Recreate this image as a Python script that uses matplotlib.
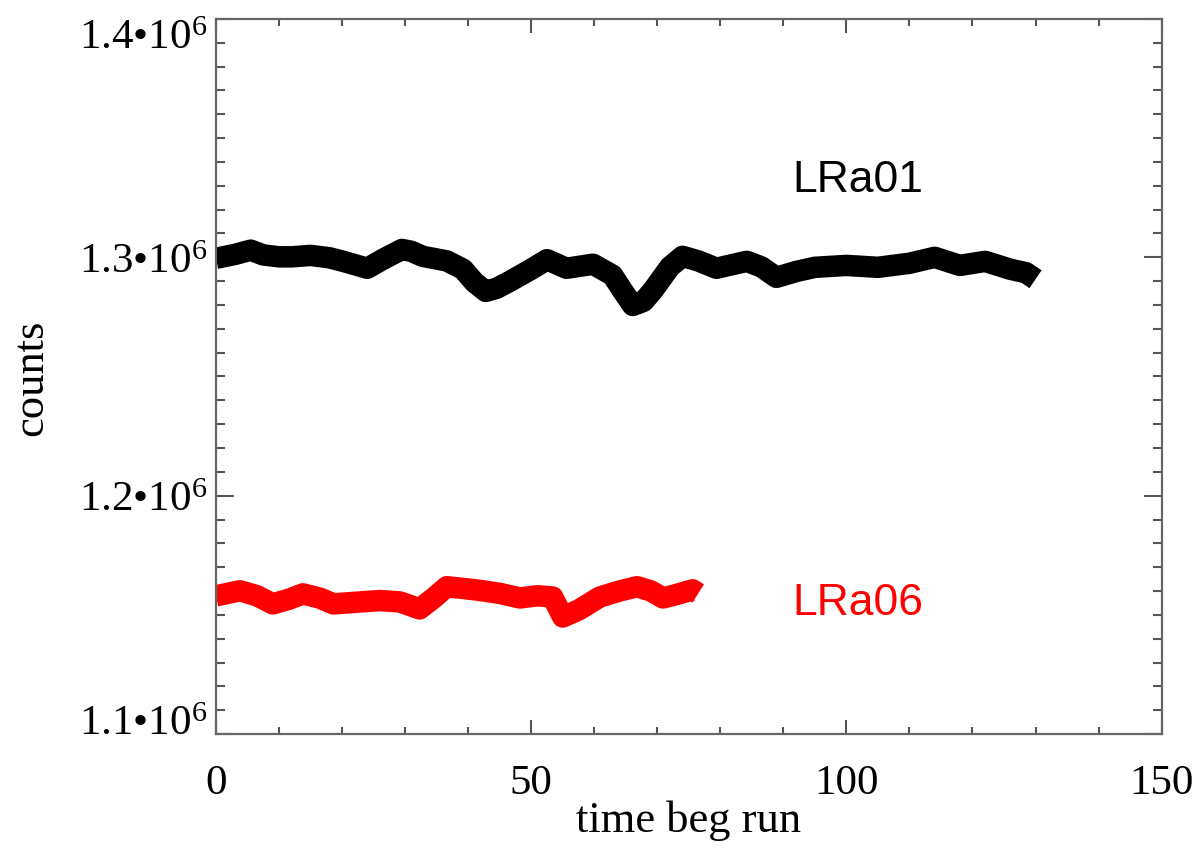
import numpy as np
import matplotlib
matplotlib.use("Agg")
import matplotlib.pyplot as plt
from matplotlib.ticker import FixedLocator, MultipleLocator

plt.rcParams['font.family'] = ['Liberation Serif', 'DejaVu Serif']
plt.rcParams['mathtext.fontset'] = 'custom'
plt.rcParams['mathtext.rm'] = 'Liberation Serif'
plt.rcParams['mathtext.it'] = 'Liberation Serif:italic'
plt.rcParams['mathtext.bf'] = 'Liberation Serif:bold'

# LRa01 (black) centre line
lra01_t = [0, 3, 5.5, 7.5, 10, 12, 15, 18, 20.2, 24, 26.5, 29.5, 31, 32.8, 36.6,
           39.2, 41, 42.8, 44.5, 46.6, 50, 52.5, 55.6, 59.8, 62.9, 64.5, 66.1,
           67.8, 69.3, 72, 74, 76.5, 79.4, 82, 84.2, 86.5, 88.9, 92.1, 95, 100,
           105, 110, 114, 118, 122, 126, 128.5, 130]
lra01_c = [1.2996e6, 1.3012e6, 1.3030e6, 1.3010e6, 1.3002e6, 1.3002e6, 1.3008e6,
           1.2998e6, 1.2983e6, 1.2954e6, 1.2992e6, 1.3033e6, 1.3025e6, 1.3004e6,
           1.2985e6, 1.2950e6, 1.2895e6, 1.2857e6, 1.2870e6, 1.2899e6, 1.2950e6,
           1.2990e6, 1.2954e6, 1.2971e6, 1.2925e6, 1.2860e6, 1.2798e6, 1.2815e6,
           1.2861e6, 1.2960e6, 1.3004e6, 1.2985e6, 1.2954e6, 1.2970e6, 1.2983e6,
           1.2960e6, 1.2916e6, 1.2941e6, 1.2958e6, 1.2966e6, 1.2958e6, 1.2975e6,
           1.3000e6, 1.2966e6, 1.2983e6, 1.2950e6, 1.2935e6, 1.2908e6]

# LRa06 (red) centre line
lra06_t = [0, 3.8, 6.5, 9, 11.5, 13.8, 16.5, 18.6, 22.8, 26, 29.2, 32.3, 34.5,
           36.6, 39.5, 42.3, 45, 48.2, 51, 53.4, 55, 57.5, 60.9, 64, 66.8, 69,
           70.9, 73, 75.6, 76.5]
lra06_c = [1.1580e6, 1.1601e6, 1.1580e6, 1.1546e6, 1.1565e6, 1.1588e6, 1.1570e6,
           1.1546e6, 1.1554e6, 1.1560e6, 1.1554e6, 1.1525e6, 1.1570e6, 1.1618e6,
           1.1610e6, 1.1601e6, 1.1590e6, 1.1571e6, 1.1580e6, 1.1575e6, 1.1491e6,
           1.1520e6, 1.1575e6, 1.1600e6, 1.1618e6, 1.1600e6, 1.1571e6, 1.1585e6,
           1.1605e6, 1.1590e6]

y_ticks = [1.1e6, 1.2e6, 1.3e6, 1.4e6]
y_labels = ["1.1•10$^{6}$", "1.2•10$^{6}$", "1.3•10$^{6}$", "1.4•10$^{6}$"]
x_ticks = [0, 50, 100, 150]
x_labels = ["0", "50", "100", "150"]

fig = plt.figure(figsize=(12, 8.53), dpi=100)
ax = fig.add_axes([0.18, 0.1383, 0.788, 0.8383])

ax.plot(lra01_t, lra01_c, color='black', lw=15.5, solid_capstyle='butt', solid_joinstyle='round')
ax.plot(lra06_t, lra06_c, color='red', lw=15.5, solid_capstyle='butt', solid_joinstyle='round')

ax.text(91.5, 1.3328e6, "LRa01", family='Liberation Sans', fontsize=32,
        color='black', va='center', ha='left')
ax.text(91.5, 1.155e6, "LRa06", family='Liberation Sans', fontsize=32,
        color='red', va='center', ha='left')

ax.set_xlim(0, 150)
ax.set_ylim(1.1e6, 1.4e6)

ax.xaxis.set_major_locator(FixedLocator(x_ticks))
ax.set_xticklabels(x_labels)
ax.xaxis.set_minor_locator(MultipleLocator(10))
ax.yaxis.set_major_locator(FixedLocator(y_ticks))
ax.set_yticklabels(y_labels)
ax.yaxis.set_minor_locator(MultipleLocator(1e4))

for s in ax.spines.values():
    s.set_color('#666666')
    s.set_linewidth(1.6)

ax.tick_params(which='both', direction='in', top=True, right=True, color='#555555', width=1.5)
ax.tick_params(axis='x', which='major', length=10, labelsize=31, pad=21)
ax.tick_params(axis='x', which='minor', length=5)
ax.tick_params(axis='y', which='major', length=13, labelsize=31, pad=6)
ax.tick_params(axis='y', which='minor', length=6.5)

ylabs = ax.get_yticklabels()
ylabs[0].set_va('baseline')
ylabs[-1].set_va('top')

ax.set_xlabel("time beg run", fontsize=32, va='baseline')
ax.xaxis.set_label_coords(0.5, -0.1357)
ax.set_ylabel("counts", fontsize=32, va='center')
ax.yaxis.set_label_coords(-0.1956, 0.5)

fig.savefig("out.png", dpi=100)
